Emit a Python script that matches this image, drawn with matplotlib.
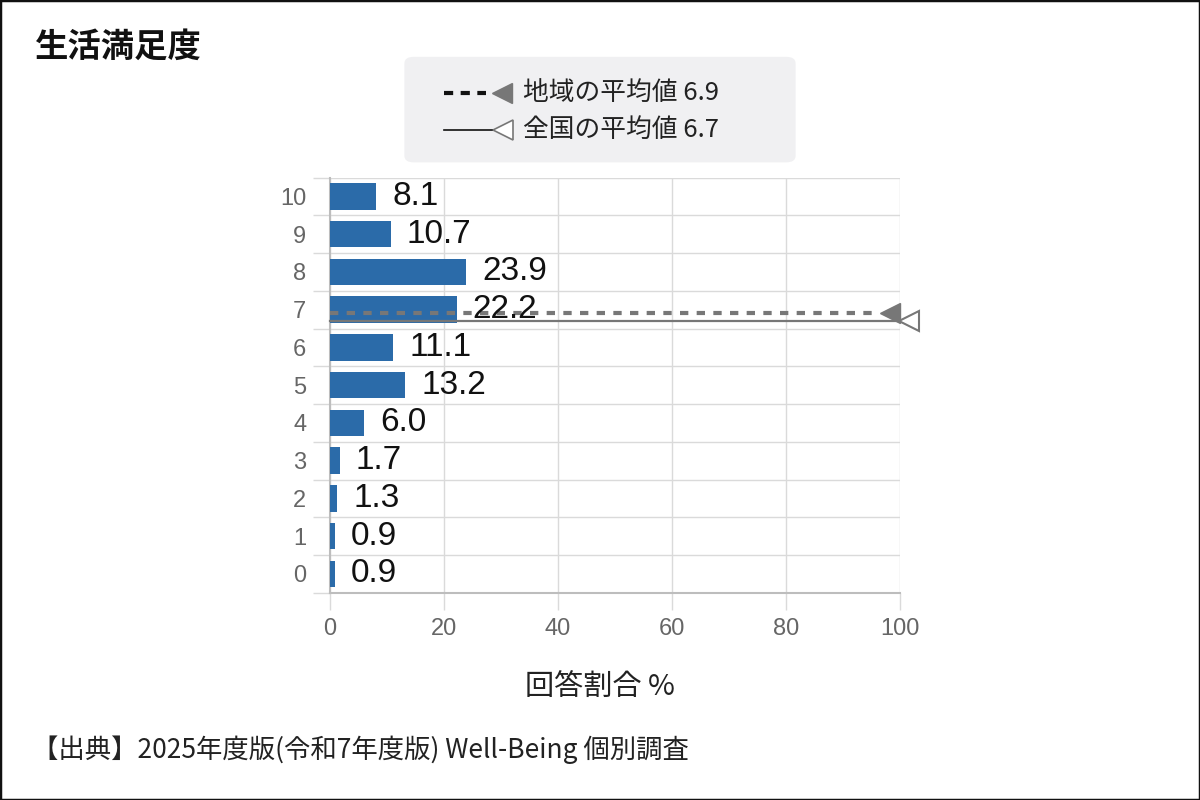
import numpy as np
import matplotlib
matplotlib.use("Agg")
import matplotlib.pyplot as plt
from matplotlib.patches import FancyBboxPatch, Rectangle
from matplotlib.lines import Line2D

scores = [0, 1, 2, 3, 4, 5, 6, 7, 8, 9, 10]
shares = [0.9, 0.9, 1.3, 1.7, 6.0, 13.2, 11.1, 22.2, 23.9, 10.7, 8.1]
area_avg = 6.9
nation_avg = 6.7
area_label = "地域の平均値 6.9"
nation_label = "全国の平均値 6.7"
title = "生活満足度"
xlabel = "回答割合 %"
source = "【出典】2025年度版(令和7年度版) Well-Being 個別調査"
xticks = [0, 20, 40, 60, 80, 100]

jp = ['Noto Sans CJK JP', 'DejaVu Sans']
num = ['Liberation Sans', 'DejaVu Sans']
bar_color = '#2b6ba9'
grid_color = '#dadada'
ref_color = '#777777'

fig = plt.figure(figsize=(12, 8), dpi=100)
ax = fig.add_axes([0.275, 0.259, 0.475, 0.519])

ax.barh(scores, shares, height=0.7, color=bar_color, zorder=3)
for s, v in zip(scores, shares):
    ax.text(v + 2.8, s, f"{v:.1f}", va='center', ha='left',
            fontsize=24, family=num, color='#111111', zorder=5)

# average lines
ax.plot([0, 96.5], [area_avg, area_avg], ls=(0, (2, 2)), lw=3,
        color=ref_color, zorder=4, clip_on=False)
ax.plot([98.3], [area_avg], marker='<', ms=15, color=ref_color,
        zorder=4, clip_on=False)
ax.plot([0, 100], [nation_avg, nation_avg], ls='-', lw=1.6,
        color=ref_color, zorder=4, clip_on=False)
ax.plot([101.6], [nation_avg], marker='<', ms=15, mfc='white',
        mec=ref_color, mew=1.5, zorder=4, clip_on=False)

ax.set_xlim(0, 100)
ax.set_ylim(-0.5, 10.5)
ax.set_xticks(xticks)
ax.set_xticklabels([str(t) for t in xticks], fontsize=17, family=num,
                   color='#666666')
ax.set_yticks(scores)
ax.set_yticklabels([str(s) for s in scores], fontsize=17, family=num,
                   color='#666666')
ax.set_yticks(np.arange(-0.5, 11, 1), minor=True)
ax.tick_params(axis='y', which='major', length=0, pad=17)
ax.tick_params(axis='y', which='minor', length=12, color=grid_color, width=1)
ax.tick_params(axis='x', which='major', length=12, color=grid_color,
               width=1, pad=6)
ax.grid(axis='x', which='major', color=grid_color, lw=1, zorder=0)
ax.grid(axis='y', which='minor', color=grid_color, lw=1, zorder=0)
for side in ['top', 'right']:
    ax.spines[side].set_visible(False)
for side in ['left', 'bottom']:
    ax.spines[side].set_color('#bdbdbd')
    ax.spines[side].set_linewidth(1.5)

# legend box drawn by hand
fig.add_artist(FancyBboxPatch((0.342, 0.802), 0.316, 0.122,
                              boxstyle='round,pad=0.005,rounding_size=0.008',
                              transform=fig.transFigure, fc='#f0f0f2',
                              ec='none'))
fig.add_artist(Line2D([0.370, 0.405], [0.884, 0.884], ls=(0, (2.2, 1.8)),
                      lw=3, color='#111111', transform=fig.transFigure))
fig.add_artist(Line2D([0.418], [0.884], marker='<', ms=15, color=ref_color,
                      transform=fig.transFigure))
fig.add_artist(Line2D([0.370, 0.412], [0.838, 0.838], lw=1.2,
                      color='#111111', transform=fig.transFigure))
fig.add_artist(Line2D([0.419], [0.838], marker='<', ms=15, mfc='white',
                      mec=ref_color, mew=1.2, transform=fig.transFigure))
fig.text(0.436, 0.884, area_label, fontsize=18.5, family=jp, color='#222222',
         va='center', ha='left')
fig.text(0.436, 0.838, nation_label, fontsize=18.5, family=jp, color='#222222',
         va='center', ha='left')

fig.text(0.029, 0.941, title, fontsize=24, family=jp, weight='bold',
         color='#111111', va='center', ha='left')
fig.text(0.5, 0.141, xlabel, fontsize=21, family=jp, color='#222222',
         va='center', ha='center')
fig.text(0.027, 0.0625, source, fontsize=19, family=jp, color='#222222',
         va='center', ha='left')

fig.add_artist(Rectangle((0, 0), 1, 1, transform=fig.transFigure,
                         fill=False, ec='#111111', lw=2.5))

fig.savefig("out.png", dpi=100)
